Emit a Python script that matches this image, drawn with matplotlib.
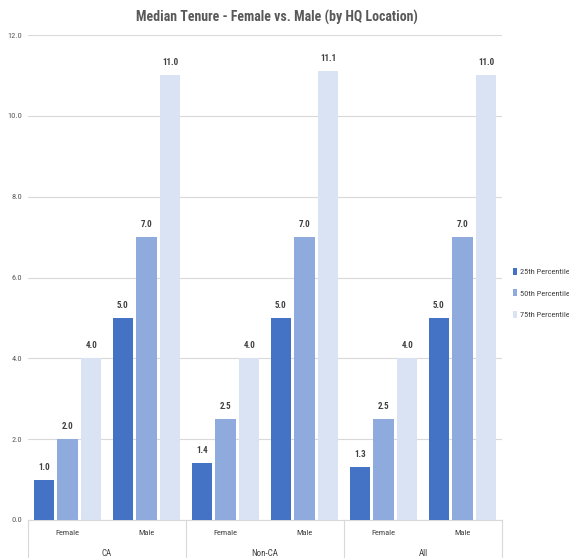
import matplotlib
matplotlib.use("Agg")
import matplotlib.pyplot as plt
from matplotlib.lines import Line2D
from matplotlib.patches import Patch
from matplotlib import font_manager
import numpy as np

names = {f.name for f in font_manager.fontManager.ttflist}
narrow = [n for n in ['Roboto Condensed', 'Liberation Sans Narrow', 'Open Sans Condensed',
                      'DejaVu Sans Condensed', 'Arial Narrow'] if n in names]
plt.rcParams['font.family'] = narrow + ['Liberation Sans', 'DejaVu Sans']
is_narrow = bool(narrow)

groups = ["CA", "Non-CA", "All"]
genders = ["Female", "Male"]
series_names = ["25th Percentile", "50th Percentile", "75th Percentile"]
p25 = [1.0, 5.0, 1.4, 5.0, 1.3, 5.0]
p50 = [2.0, 7.0, 2.5, 7.0, 2.5, 7.0]
p75 = [4.0, 11.0, 4.0, 11.1, 4.0, 11.0]
yticks = [0.0, 2.0, 4.0, 6.0, 8.0, 10.0, 12.0]

colors = ["#4472C4", "#8FAADC", "#DAE3F3"]
W, H = 569, 558
L, R, T, B = 28, 502, 35, 520
fig = plt.figure(figsize=(W / 100, H / 100), dpi=100)
ax = fig.add_axes([L / W, 1 - B / H, (R - L) / W, (B - T) / H])

x = np.arange(len(p25))
bw = 0.26
for i, (vals, c, name) in enumerate(zip([p25, p50, p75], colors, series_names)):
    off = (i - 1) * 0.30
    ax.bar(x + off, vals, bw, color=c, label=name, zorder=3)
    for xi, v in zip(x, vals):
        ax.text(xi + off, v + 0.2, f"{v:.1f}", ha="center", va="bottom",
                fontsize=6.5, fontweight="bold", color="#404040")

ax.set_xlim(-0.5, len(p25) - 0.5)
ax.set_ylim(0, 12)
ax.set_yticks(yticks)
ax.set_yticklabels([f"{t:.1f}" for t in yticks], fontsize=6, color="#595959")
ax.yaxis.grid(True, color="#D9D9D9", linewidth=0.8, zorder=0)
ax.tick_params(axis="y", length=0, pad=4)
ax.set_xticks([])
for s in ["left", "right", "top"]:
    ax.spines[s].set_visible(False)
ax.spines["bottom"].set_color("#D9D9D9")
ax.spines["bottom"].set_linewidth(0.8)

ax_h = B - T
trans = ax.get_xaxis_transform()
for xi in x:
    ax.text(xi, -13 / ax_h, genders[xi % 2], ha="center", va="center",
            fontsize=6, color="#404040", transform=trans)
for gi, g in enumerate(groups):
    ax.text(gi * 2 + 0.5, -33 / ax_h, g, ha="center", va="center",
            fontsize=6.5, color="#404040", transform=trans)
for b in [-0.5, 1.5, 3.5, 5.5]:
    ax.add_line(Line2D([b, b], [0, -40 / ax_h], transform=trans, color="#D9D9D9",
                       linewidth=0.8, clip_on=False))

fig.text(277 / W, 1 - 17 / H, "Median Tenure - Female vs. Male (by HQ Location)",
         ha="center", va="center", fontsize=10 if is_narrow else 8.5,
         fontweight="bold", color="#595959")

handles = [Patch(facecolor=c, edgecolor="none") for c in colors]
fig.legend(handles, series_names, loc="center left",
           bbox_to_anchor=(513 / W, 1 - 293 / H), frameon=False,
           fontsize=6 if is_narrow else 4.8,
           handlelength=0.5, handleheight=0.9, handletextpad=0.3, labelspacing=1.7,
           labelcolor="#404040", borderaxespad=0, borderpad=0)

fig.savefig("out.png", dpi=100)
